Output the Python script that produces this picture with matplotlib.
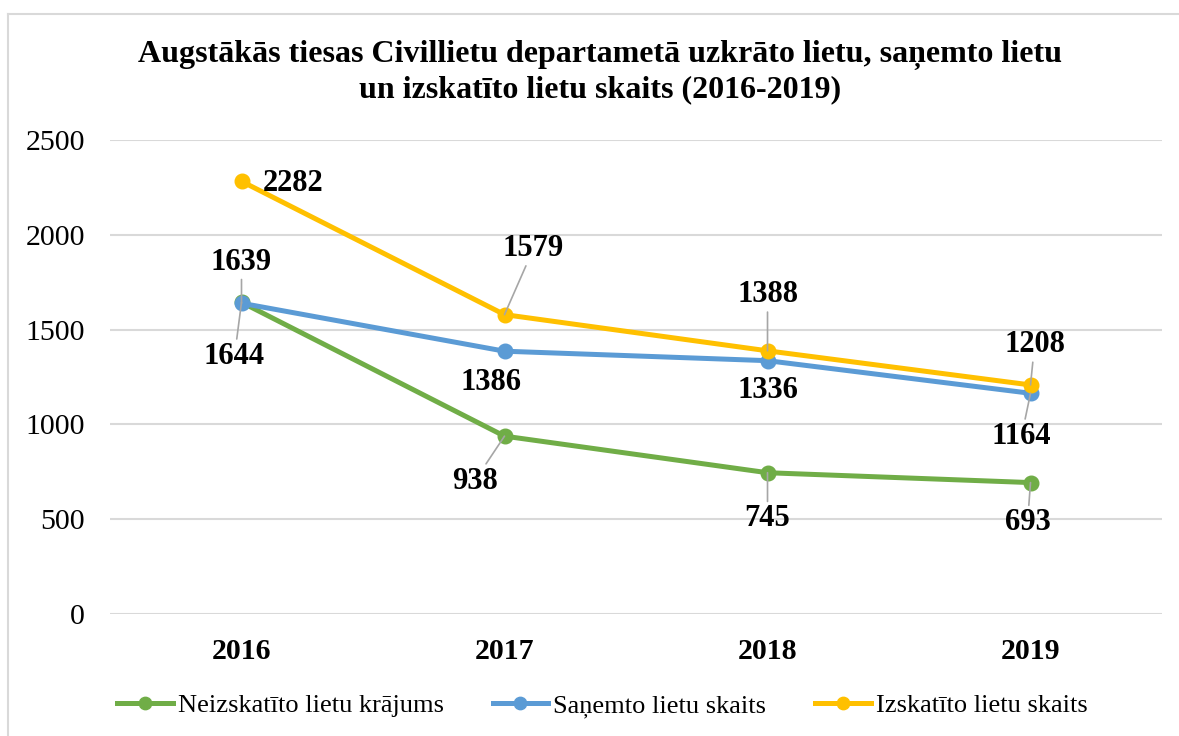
import matplotlib.pyplot as plt
from matplotlib.lines import Line2D

plt.rcParams['font.family'] = ['Liberation Serif', 'DejaVu Serif']

gadi = ['2016', '2017', '2018', '2019']
neizskatito = [1644, 938, 745, 693]
sanemto = [1639, 1386, 1336, 1164]
izskatito = [2282, 1579, 1388, 1208]

# label offsets in pixels (dx, dy) and whether a leader line is drawn
off_neiz = [(-7, -54, True), (-30, -45, True), (0, -46, True), (-3, -40, True)]
off_san = [(0, 41, True), (-14, -31, False), (0, -30, False), (-9, -43, True)]
off_izsk = [(52, -2, False), (29, 66, True), (0, 56, True), (4, 40, True)]

fig = plt.figure(figsize=(11.79, 7.36), dpi=100)
ax = fig.add_axes([0.0933, 0.1658, 0.8923, 0.644])

# outer chart frame (only left and top edges are visible)
fig.add_artist(Line2D([8 / 1179, 8 / 1179], [0, 1 - 14 / 736], transform=fig.transFigure,
                      color='#d9d9d9', lw=1.5))
fig.add_artist(Line2D([8 / 1179, 1], [1 - 14 / 736, 1 - 14 / 736], transform=fig.transFigure,
                      color='#d9d9d9', lw=1.5))

x = range(len(gadi))
serijas = [
    (neizskatito, '#70AD47', 'Neizskatīto lietu krājums', off_neiz),
    (sanemto, '#5B9BD5', 'Saņemto lietu skaits', off_san),
    (izskatito, '#FFC000', 'Izskatīto lietu skaits', off_izsk),
]

for vert, krasa, nosauk, offs in serijas:
    ax.plot(x, vert, color=krasa, lw=3.6, marker='o', markersize=10.5, label=nosauk, zorder=3)
    for i, v in enumerate(vert):
        dx, dy, lin = offs[i]
        ap = dict(arrowstyle='-', color='#a6a6a6', lw=1.2, shrinkA=0, shrinkB=0) if lin else None
        ax.annotate(str(v), (i, v), xytext=(dx, dy), textcoords='offset pixels',
                    ha='center', va='center', fontsize=22, fontweight='bold',
                    arrowprops=ap, zorder=4)

ax.set_xlim(-0.5, 3.5)
ax.set_ylim(0, 2500)
ax.set_yticks(range(0, 2501, 500))
ax.set_xticks(list(x))
ax.set_xticklabels(gadi, fontweight='bold')
ax.tick_params(axis='both', length=0, labelsize=21.5)
ax.tick_params(axis='x', pad=17)
ax.tick_params(axis='y', pad=18)
ax.grid(axis='y', color='#d9d9d9', lw=1.5)
ax.set_axisbelow(True)
for s in ax.spines.values():
    s.set_visible(False)

fig.text(0.509, 0.902, 'Augstākās tiesas Civillietu departametā uzkrāto lietu, saņemto lietu\n'
         'un izskatīto lietu skaits (2016-2019)', ha='center', va='center',
         fontsize=23, fontweight='bold', linespacing=1.25)

fig.legend(loc='center', bbox_to_anchor=(0.511, 0.041), ncol=3, frameon=False,
           fontsize=19, handlelength=2.1, handletextpad=0.2, columnspacing=1.85,
           markerscale=0.85)

fig.savefig('out.png', dpi=100)
